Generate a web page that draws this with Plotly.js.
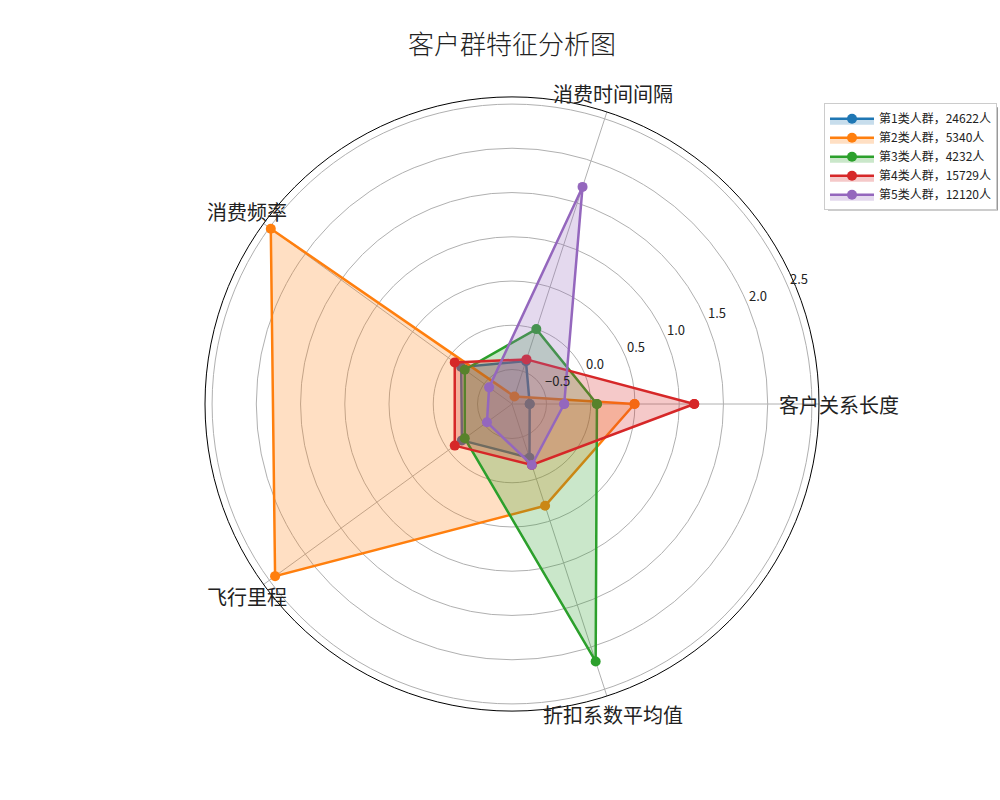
<!DOCTYPE html>
<html>
<head>
<meta charset="utf-8">
<script src="https://cdn.plot.ly/plotly-3.0.1.min.js"></script>
<style>html,body{margin:0;padding:0;background:#fff;}</style>
</head>
<body>
<div id="chart" style="width:1000px;height:800px;"></div>
<script>
const categories = ['客户关系长度', '消费时间间隔', '消费频率', '飞行里程', '折扣系数平均值'];
const seriesNames = ['第1类人群，24622人', '第2类人群，5340人', '第3类人群，4232人', '第4类人群，15729人', '第5类人群，12120人'];
const group1 = [-0.69, -0.38, -0.18, -0.19, -0.25];
const group2 = [0.495, -0.80, 2.48, 2.42, 0.32];
const group3 = [0.07, 0.00, -0.23, -0.23, 2.17];
const group4 = [1.17, -0.36, -0.09, -0.09, -0.165];
const group5 = [-0.30, 1.69, -0.57, -0.54, -0.165];
const radialTicks = [-0.5, 0.0, 0.5, 1.0, 1.5, 2.0, 2.5];
const radialTickText = ['−0.5', '0.0', '0.5', '1.0', '1.5', '2.0', '2.5'];

const groups = [group1, group2, group3, group4, group5];
const colors = ['#1f77b4', '#ff7f0e', '#2ca02c', '#d62728', '#9467bd'];
const fills = ['rgba(31,119,180,0.25)', 'rgba(255,127,14,0.25)', 'rgba(44,160,44,0.25)', 'rgba(214,39,40,0.25)', 'rgba(148,103,189,0.25)'];
const FONT = '"Noto Sans CJK SC", "Noto Sans", sans-serif';

const W = 1000, H = 800;
const CX = 512, CY = 404, RAD = 307;
const RMIN = -0.89, RMAX = 2.58;

const traces = groups.map((g, i) => ({
  type: 'scatterpolar',
  mode: 'lines+markers',
  r: g.concat([g[0]]),
  theta: categories.concat([categories[0]]),
  name: seriesNames[i],
  line: {color: colors[i], width: 2.5},
  marker: {color: colors[i], size: 10},
  fill: 'toself',
  fillcolor: fills[i]
}));

// category labels placed around the circle, as matplotlib does
const labelR = 327;
const annotations = categories.map((c, i) => {
  const a = i * 2 * Math.PI / categories.length;
  return {
    text: c, showarrow: false, xref: 'paper', yref: 'paper',
    x: (CX + labelR * Math.cos(a)) / W, y: 1 - (CY - labelR * Math.sin(a)) / H,
    xanchor: 'center', yanchor: 'middle',
    font: {family: FONT, size: 20, color: '#222'}
  };
});
// radial tick labels at 22.5 degrees, left-bottom anchored at ring crossing
const rlAng = 22.5 * Math.PI / 180;
radialTicks.forEach((v, i) => {
  const rp = (v - RMIN) / (RMAX - RMIN) * RAD;
  annotations.push({
    text: radialTickText[i], showarrow: false, xref: 'paper', yref: 'paper',
    x: (CX + rp * Math.cos(rlAng)) / W, y: 1 - (CY - rp * Math.sin(rlAng)) / H,
    xanchor: 'left', yanchor: 'bottom', borderpad: 0,
    font: {family: FONT, size: 13, color: '#222'}
  });
});

const layout = {
  width: W, height: H,
  margin: {l: 0, r: 0, t: 0, b: 0},
  paper_bgcolor: '#fff',
  font: {family: FONT, color: '#222'},
  title: {text: '客户群特征分析图', x: 0.512, xanchor: 'center', y: 0.944, yanchor: 'middle',
          font: {family: FONT, size: 26, color: '#222', weight: 300}},
  showlegend: true,
  legend: {x: 0.824, y: 0.871, xanchor: 'left', yanchor: 'top', bgcolor: '#fff',
           bordercolor: '#ccc', borderwidth: 1, font: {family: FONT, size: 12, color: '#222'},
           tracegroupgap: 0, itemwidth: 44},
  shapes: [{type: 'rect', xref: 'paper', yref: 'paper', x0: 0.828, x1: 0.998, y0: 0.737, y1: 0.866,
            fillcolor: '#999', line: {width: 0}, layer: 'below'}],
  annotations: annotations,
  polar: {
    domain: {x: [(CX - RAD) / W, (CX + RAD) / W], y: [1 - (CY + RAD) / H, 1 - (CY - RAD) / H]},
    bgcolor: '#fff',
    angularaxis: {
      type: 'category', rotation: 0, direction: 'counterclockwise',
      showline: true, linecolor: '#000', linewidth: 1,
      showgrid: true, gridcolor: '#b0b0b0', gridwidth: 0.8,
      ticks: '', showticklabels: false
    },
    radialaxis: {
      range: [RMIN, RMAX], angle: 22.5,
      tickvals: radialTicks, showticklabels: false,
      showline: false, ticks: '', showgrid: true, gridcolor: '#b0b0b0', gridwidth: 0.8
    }
  }
};

Plotly.newPlot('chart', traces, layout, {displayModeBar: false});
</script>
</body>
</html>
